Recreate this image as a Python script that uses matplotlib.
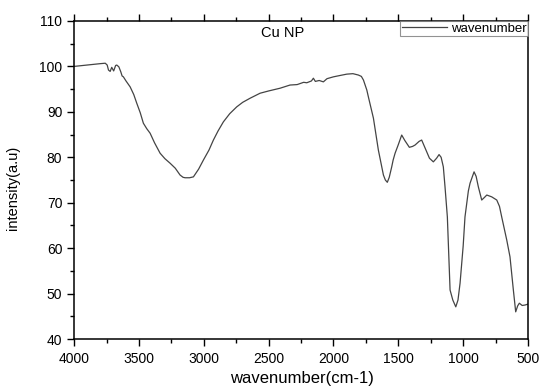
import matplotlib
matplotlib.use("Agg")
import matplotlib.pyplot as plt
from matplotlib.ticker import MultipleLocator

plt.rcParams['font.family'] = ['Liberation Sans', 'DejaVu Sans']

# FTIR spectrum of Cu NP
wavenumber = [4000, 3900, 3800, 3760, 3745, 3735, 3722, 3710, 3695, 3680, 3671, 3655, 3640,
              3630, 3620, 3600, 3568, 3540, 3517, 3490, 3466, 3440, 3414, 3380, 3337, 3300,
              3260, 3220, 3183, 3160, 3144, 3110, 3080, 3040, 3003, 2960, 2926, 2890, 2849,
              2800, 2746, 2700, 2643, 2566, 2500, 2412, 2335, 2280, 2230, 2206, 2170, 2155,
              2140, 2110, 2078, 2050, 2001, 1950, 1897, 1850, 1808, 1785, 1769, 1743, 1731,
              1692, 1654, 1615, 1600, 1585, 1570, 1551, 1540, 1525, 1500, 1474, 1450, 1415,
              1390, 1371, 1340, 1320, 1290, 1260, 1230, 1205, 1186, 1170, 1153, 1140, 1122,
              1101, 1080, 1057, 1040, 1024, 1000, 986, 960, 947, 916, 900, 883, 857, 835,
              818, 780, 741, 720, 703, 664, 639, 613, 595, 580, 567, 545, 523, 500]
intensity = [100.0, 100.3, 100.6, 100.7, 100.3, 99.2, 98.9, 99.8, 99.0, 100.2, 100.3, 99.9, 98.8,
             97.9, 97.7, 96.8, 95.5, 93.8, 91.9, 89.8, 87.5, 86.3, 85.3, 83.2, 80.9, 79.7,
             78.7, 77.6, 76.1, 75.6, 75.5, 75.5, 75.7, 77.4, 79.4, 81.6, 83.8, 85.8, 87.8,
             89.6, 91.1, 92.1, 93.0, 94.1, 94.6, 95.2, 95.9, 96.0, 96.5, 96.4, 96.8, 97.4,
             96.7, 96.9, 96.6, 97.3, 97.7, 98.0, 98.3, 98.4, 98.1, 97.8, 97.0, 94.8, 93.3,
             88.6, 81.6, 76.1, 75.0, 74.5, 75.6, 77.9, 79.4, 80.9, 82.8, 84.9, 83.7, 82.2,
             82.4, 82.7, 83.5, 83.8, 81.8, 79.8, 79.0, 79.8, 80.6, 80.0, 77.9, 73.5, 66.9,
             50.8, 48.6, 47.1, 48.6, 52.3, 60.5, 66.9, 72.6, 74.3, 76.8, 75.8, 73.5, 70.6, 71.2,
             71.7, 71.3, 70.6, 69.2, 66.9, 61.8, 58.1, 50.8, 46.0, 47.3, 47.9, 47.4, 47.5, 47.7]

fig, ax = plt.subplots(figsize=(5.41, 3.88), dpi=100)
fig.subplots_adjust(left=0.137, right=0.976, top=0.946, bottom=0.126)

ax.plot(wavenumber, intensity, color='#444444', linewidth=0.9, label='wavenumber')

ax.set_xlim(4000, 500)
ax.set_ylim(40, 110)
ax.xaxis.set_major_locator(MultipleLocator(500))
ax.xaxis.set_minor_locator(MultipleLocator(250))
ax.yaxis.set_major_locator(MultipleLocator(10))
ax.yaxis.set_minor_locator(MultipleLocator(5))
ax.tick_params(axis='both', which='major', direction='out', length=5, width=1, labelsize=10,
               top=True, right=False, labeltop=False)
ax.tick_params(axis='x', which='major', pad=4.5)
ax.tick_params(axis='both', which='minor', direction='out', length=3, width=1,
               top=True, right=False)
for s in ax.spines.values():
    s.set_linewidth(1.1)

ax.set_xlabel('wavenumber(cm-1)', fontsize=12)
ax.set_ylabel('intensity(a.u)', fontsize=10.5)
ax.xaxis.set_label_coords(0.502, -0.1)
ax.yaxis.set_label_coords(-0.119, 0.475)
ax.text(0.46, 0.985, 'Cu NP', transform=ax.transAxes, ha='center', va='top', fontsize=10.5)

leg = ax.legend(loc='upper right', borderaxespad=0, fontsize=9.5, fancybox=False,
                handlelength=3.4, borderpad=0.12, handletextpad=0.3)
leg.get_frame().set_edgecolor('#777777')
leg.get_frame().set_linewidth(0.8)

fig.savefig('out.png', dpi=100)
